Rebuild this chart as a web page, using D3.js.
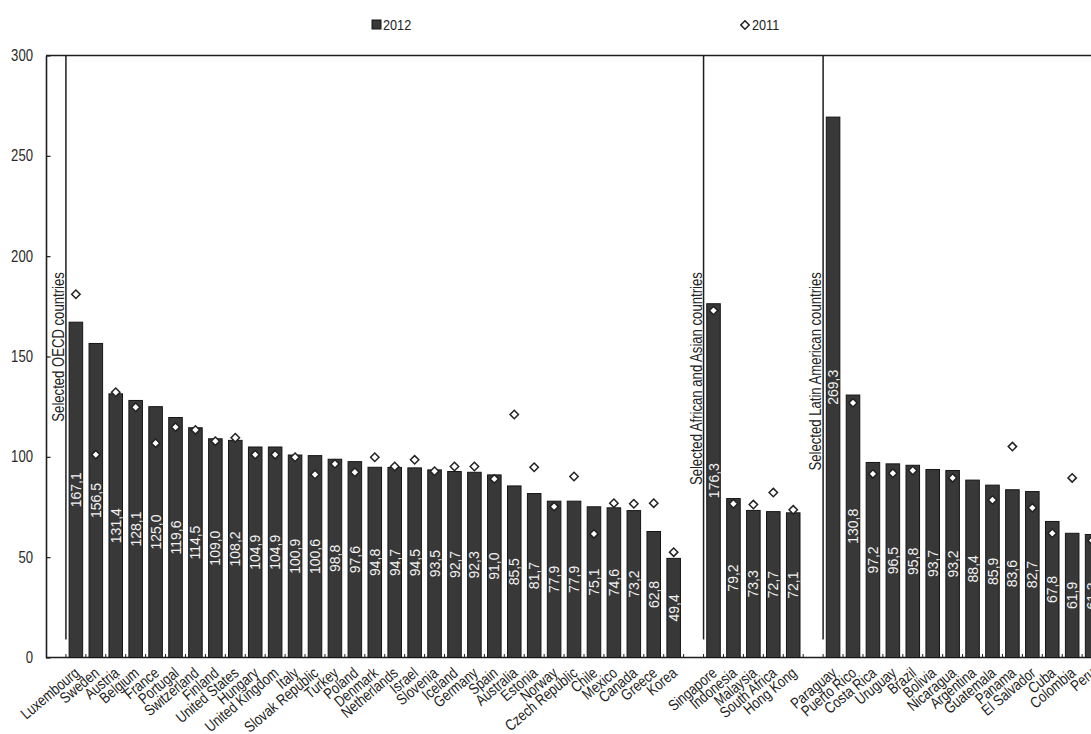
<!DOCTYPE html>
<html><head><meta charset="utf-8">
<script src="https://cdn.jsdelivr.net/npm/d3@7"></script>
<style>html,body{margin:0;padding:0;background:#fff;overflow:hidden}</style>
</head><body><svg id="chart" width="1091" height="734"></svg>
<script>
// ---------- DATA ----------
const seriesNames = ["2012", "2011"];
const groupLabels = ["Selected OECD countries", "Selected African and Asian countries", "Selected Latin American countries"];

const oecdCountries = ["Luxembourg","Sweden","Austria","Belgium","France","Portugal","Switzerland","Finland","United States","Hungary","United Kingdom","Italy","Slovak Republic","Turkey","Poland","Denmark","Netherlands","Israel","Slovenia","Iceland","Germany","Spain","Australia","Estonia","Norway","Czech Republic","Chile","Mexico","Canada","Greece","Korea"];
const oecd2012 = [167.1,156.5,131.4,128.1,125.0,119.6,114.5,109.0,108.2,104.9,104.9,100.9,100.6,98.8,97.6,94.8,94.7,94.5,93.5,92.7,92.3,91.0,85.5,81.7,77.9,77.9,75.1,74.6,73.2,62.8,49.4];
const oecd2011 = [181.0,101.1,132.2,124.7,106.8,114.8,113.4,107.8,109.5,101.1,101.1,99.8,91.2,96.5,92.3,99.8,95.2,98.5,92.8,95.2,95.2,89.0,121.1,94.8,75.2,90.2,61.6,76.9,76.6,76.9,52.5];

const asiaCountries = ["Singapore","Indonesia","Malaysia","South Africa","Hong Kong"];
const asia2012 = [176.3,79.2,73.3,72.7,72.1];
const asia2011 = [172.9,76.6,76.2,82.2,73.6];

const latamCountries = ["Paraguay","Puerto Rico","Costa Rica","Uruguay","Brazil","Bolivia","Nicaragua","Argentina","Guatemala","Panama","El Salvador","Cuba","Colombia","Peru"];
const latam2012 = [269.3,130.8,97.2,96.5,95.8,93.7,93.2,88.4,85.9,83.6,82.7,67.8,61.9,61.3];
const latam2011 = [null,126.9,91.5,91.8,93.2,null,89.5,null,78.5,105.1,74.6,61.9,89.5,58.3];

const yTicks = [0,50,100,150,200,250,300];
const yDomain = [0,300];
const groupLabelEnd = 192;   // value level where group labels end
const separatorBottom = 9;   // value level where separators stop

// ---------- BUILD ----------
const groups = [
  {label: groupLabels[0], countries: oecdCountries, v12: oecd2012, v11: oecd2011},
  {label: groupLabels[1], countries: asiaCountries, v12: asia2012, v11: asia2011},
  {label: groupLabels[2], countries: latamCountries, v12: latam2012, v11: latam2011}
];
const slots = [], rows = [], seps = [];
groups.forEach((g, gi) => {
  const key = "_gap" + gi;
  slots.push(key);
  seps.push({key, label: g.label});
  g.countries.forEach((c, i) => { slots.push(c); rows.push({c, v12: g.v12[i], v11: g.v11[i]}); });
});
slots.push("_gapEnd");

const svg = d3.select("#chart");
const mLeft = 46, mTop = 55.5, mBottom = 657.5, mRight = 1122;
const ink = "#1e1e1e";
const narrow = "'Liberation Sans', Arial, sans-serif";

const x = d3.scaleBand().domain(slots).range([mLeft, mRight]).paddingInner(0.32).paddingOuter(0.16);
const y = d3.scaleLinear().domain(yDomain).range([mBottom, mTop]);
const cx = k => x(k) + x.bandwidth() / 2;
const fmt = d3.formatLocale({decimal: ",", thousands: ".", grouping: [3], currency: ["", ""]}).format(".1f");

// top border & bottom axis line
svg.append("line").attr("x1", mLeft).attr("x2", mRight).attr("y1", mTop).attr("y2", mTop)
  .attr("stroke", ink).attr("stroke-width", 1.6);
svg.append("line").attr("x1", mLeft).attr("x2", mRight).attr("y1", mBottom).attr("y2", mBottom)
  .attr("stroke", ink).attr("stroke-width", 1.6);

// bottom small ticks at slot boundaries
svg.append("g").selectAll("line").data(slots).join("line")
  .attr("x1", d => cx(d) + x.step() / 2).attr("x2", d => cx(d) + x.step() / 2)
  .attr("y1", mBottom).attr("y2", mBottom - 3.5)
  .attr("stroke", ink).attr("stroke-width", 1);

// left axis
const yAxis = svg.append("g").attr("transform", `translate(${mLeft},0)`)
  .call(d3.axisLeft(y).tickValues(yTicks).tickSizeInner(-4.5).tickSizeOuter(0).tickPadding(13).tickFormat(d3.format("d")));
yAxis.select(".domain").attr("stroke", ink).attr("stroke-width", 1.6);
yAxis.selectAll(".tick line").attr("stroke", ink).attr("stroke-width", 1.2);
yAxis.selectAll(".tick text")
  .attr("x", null).attr("transform", "translate(-13,0) scale(0.82,1)")
  .attr("fill", "#2a2a2a").style("font-family", narrow).style("font-size", "16px");

// separators
svg.append("g").selectAll("line").data(seps).join("line")
  .attr("x1", d => cx(d.key) + x.step() / 2).attr("x2", d => cx(d.key) + x.step() / 2)
  .attr("y1", mTop).attr("y2", y(separatorBottom))
  .attr("stroke", ink).attr("stroke-width", 1.5);

// group labels
svg.append("g").selectAll("text").data(seps).join("text")
  .attr("transform", d => `translate(${cx(d.key) + x.step() / 2 - 2},${y(groupLabelEnd)}) rotate(-90) scale(0.82,1)`)
  .attr("text-anchor", "end")
  .style("font-family", narrow).style("font-size", "16px").attr("fill", "#222")
  .text(d => d.label);

// bars
svg.append("g").selectAll("rect").data(rows).join("rect")
  .attr("x", d => x(d.c)).attr("width", x.bandwidth())
  .attr("y", d => y(d.v12)).attr("height", d => y(0) - y(d.v12))
  .attr("fill", "#383838").attr("stroke", "#151515").attr("stroke-width", 1);

// value labels
svg.append("g").selectAll("text").data(rows).join("text")
  .attr("transform", d => `translate(${cx(d.c)},${(y(d.v12) + y(0)) / 2}) rotate(-90)`)
  .attr("text-anchor", "middle").attr("dy", "0.36em")
  .style("font-family", "'Liberation Sans', Arial, sans-serif").style("font-size", "14px")
  .attr("fill", "#f2f2f2")
  .text(d => fmt(d.v12));

// 2011 diamonds
const diamond = "M0,-4.2L4.2,0L0,4.2L-4.2,0Z";
svg.append("g").selectAll("path").data(rows.filter(d => d.v11 != null)).join("path")
  .attr("d", diamond)
  .attr("transform", d => `translate(${cx(d.c)},${y(d.v11)})`)
  .attr("fill", "#fff").attr("stroke", "#222").attr("stroke-width", 1.5);

// category labels
svg.append("g").selectAll("text").data(rows).join("text")
  .attr("transform", d => `translate(${cx(d.c) + 1},${mBottom + 13}) rotate(-40) scale(0.82,1)`)
  .attr("text-anchor", "end").attr("dy", "0.35em")
  .style("font-family", narrow).style("font-size", "15.5px").attr("fill", "#222")
  .text(d => d.c);

// legend
const lg = svg.append("g");
lg.append("rect").attr("x", 372).attr("y", 20).attr("width", 9).attr("height", 9)
  .attr("fill", "#383838").attr("stroke", "#151515");
lg.append("text").attr("transform", "translate(383,30) scale(0.82,1)")
  .style("font-family", narrow).style("font-size", "15.5px").attr("fill", "#222").text(seriesNames[0]);
lg.append("path").attr("d", diamond).attr("transform", "translate(745,25)")
  .attr("fill", "#fff").attr("stroke", "#222").attr("stroke-width", 1.5);
lg.append("text").attr("transform", "translate(752,30) scale(0.82,1)")
  .style("font-family", narrow).style("font-size", "15.5px").attr("fill", "#222").text(seriesNames[1]);
</script>
</body></html>
